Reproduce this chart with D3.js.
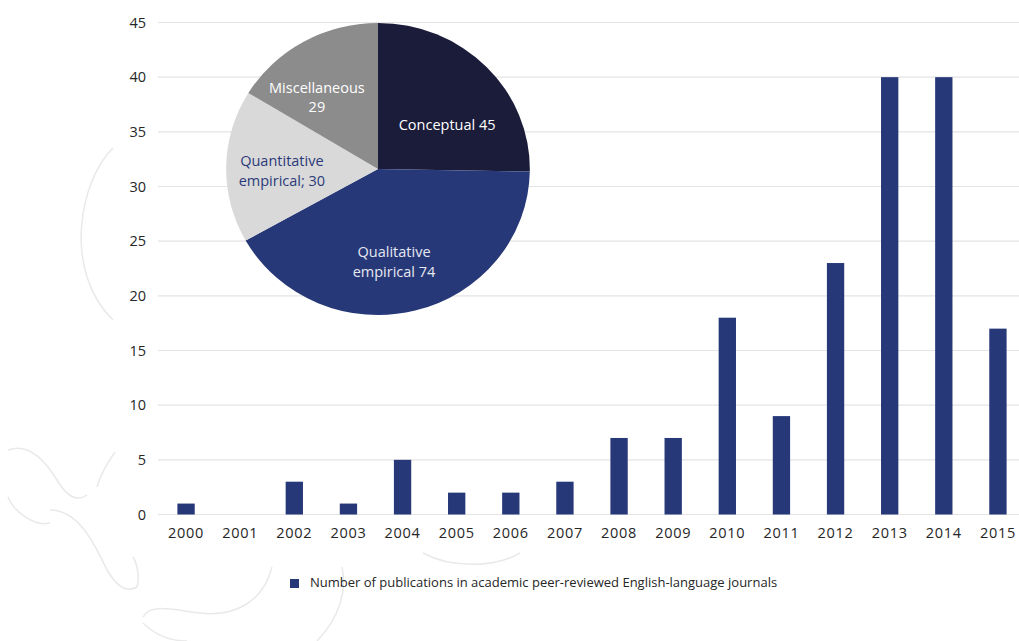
<!DOCTYPE html>
<html>
<head>
<meta charset="utf-8">
<script src="https://cdn.jsdelivr.net/npm/d3@7"></script>
<style>
  html, body { margin: 0; padding: 0; background: #fff; }
  svg { display: block; font-family: "Open Sans", sans-serif; }
</style>
</head>
<body>
<svg id="chart" width="1019" height="641"></svg>
<script>
// Publications per year
const years = ["2000","2001","2002","2003","2004","2005","2006","2007","2008","2009","2010","2011","2012","2013","2014","2015"];
const publications = [1, 0, 3, 1, 5, 2, 2, 3, 7, 7, 18, 9, 23, 40, 40, 17];
const yTicks = [0, 5, 10, 15, 20, 25, 30, 35, 40, 45];
const seriesName = "Number of publications in academic peer-reviewed English-language journals";

// Breakdown by study type
const pieCategories = ["Conceptual", "Qualitative empirical", "Quantitative empirical", "Miscellaneous"];
const pieValues = [45, 74, 30, 29];
const pieLabelLines = [["Conceptual 45"], ["Qualitative", "empirical 74"], ["Quantitative", "empirical; 30"], ["Miscellaneous", "29"]];

const svg = d3.select("#chart");
const navy = "#263878";

// Faint decorative swirls in the background
const deco = svg.append("g").attr("fill", "none").attr("stroke", "#e9e9e9").attr("stroke-width", 1.5);
[
  "M113,148 C80,180 62,270 113,320",
  "M8,450 C27,443 43,457 57,480 C67,497 77,502 87,495",
  "M115,452 C107,463 100,477 97,487",
  "M8,497 C13,510 33,527 50,523",
  "M50,510 C77,510 93,540 107,570 C117,587 127,593 137,587 C140,577 137,563 133,557",
  "M143,617 C150,603 173,610 200,613 C233,617 263,603 272,567",
  "M342,567 C347,590 340,617 317,641",
  "M143,623 C157,637 173,641 187,641",
  "M423,553 C450,568 495,568 520,553"
].forEach(d => deco.append("path").attr("d", d));

// Bar chart scales
const x = d3.scaleBand().domain(years).range([159, 1025]).paddingInner(0.68).paddingOuter(0.34);
const y = d3.scaleLinear().domain([0, 45]).range([514.5, 22.5]);

// Gridlines
svg.append("g").selectAll("line").data(yTicks).join("line")
  .attr("x1", 158).attr("x2", 1019)
  .attr("y1", d => y(d)).attr("y2", d => y(d))
  .attr("stroke", "#e4e4e4").attr("stroke-width", 1.2);

// Y axis labels
const yAxis = svg.append("g").attr("transform", "translate(146,0)")
  .call(d3.axisLeft(y).tickValues(yTicks).tickSize(0).tickPadding(0));
yAxis.select(".domain").remove();
yAxis.selectAll("text").attr("font-size", 14.5).attr("fill", "#262626")
  .attr("font-family", "Open Sans").attr("font-weight", 500);

// X axis labels
const xAxis = svg.append("g").attr("transform", "translate(0,528)")
  .call(d3.axisBottom(x).tickSize(0).tickPadding(0));
xAxis.select(".domain").remove();
xAxis.selectAll("text").attr("font-size", 14.5).attr("fill", "#262626")
  .attr("font-family", "Open Sans").attr("font-weight", 500).attr("letter-spacing", 0.7);

// Bars
svg.append("g").selectAll("rect").data(years).join("rect")
  .attr("x", d => x(d))
  .attr("width", x.bandwidth())
  .attr("y", (d, i) => y(publications[i]))
  .attr("height", (d, i) => y(0) - y(publications[i]))
  .attr("fill", navy);

// Legend
const legend = svg.append("g").attr("transform", "translate(290,577)");
legend.append("rect").attr("width", 9).attr("height", 9).attr("y", 2).attr("fill", navy);
legend.append("text").attr("x", 20).attr("y", 10).attr("font-size", 13).attr("fill", "#262626").text(seriesName);

// Pie inset
const pieColors = ["#1b1c3a", navy, "#d9d9d9", "#8c8c8c"];
const labelColors = ["#ffffff", "#e6e8f0", "#2b3a7a", "#ffffff"];
const pie = d3.pie().sort(null).value(d => d)(pieValues);
const r = 146;
const sx = 1.04;
const arc = d3.arc().innerRadius(0).outerRadius(r);
const pg = svg.append("g").attr("transform", "translate(378,169)");
pg.append("g").attr("transform", `scale(${sx},1)`)
  .selectAll("path").data(pie).join("path")
  .attr("d", arc).attr("fill", (d, i) => pieColors[i]);

const labelArc = d3.arc().innerRadius(r * 0.62).outerRadius(r * 0.62);
const labelOffsets = [[2, 19.5], [-7, 5], [-2, 3.6], [-15, 7.5]];
pie.forEach((d, i) => {
  const [cx, cy] = labelArc.centroid(d);
  const lines = pieLabelLines[i];
  const t = pg.append("text")
    .attr("text-anchor", "middle")
    .attr("font-size", 14.5)
    .attr("fill", labelColors[i]);
  lines.forEach((ln, j) => {
    t.append("tspan")
      .attr("x", cx * sx + labelOffsets[i][0])
      .attr("y", cy + labelOffsets[i][1] + (j - (lines.length - 1) / 2) * 19.5 + 5)
      .text(ln);
  });
});
</script>
</body>
</html>
